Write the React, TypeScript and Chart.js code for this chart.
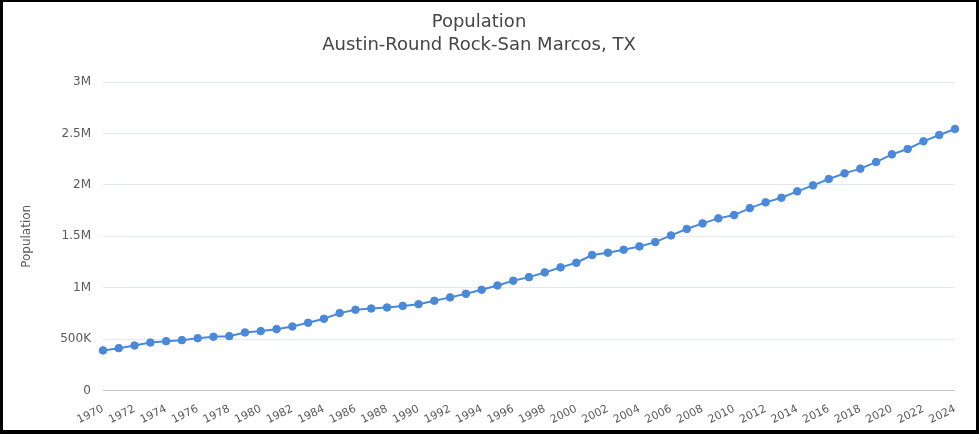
import React, { useEffect, useRef } from "react";
import { Chart, registerables } from "chart.js";

Chart.register(...registerables);

const years: string[] = [
  "1970","1971","1972","1973","1974","1975","1976","1977","1978","1979",
  "1980","1981","1982","1983","1984","1985","1986","1987","1988","1989",
  "1990","1991","1992","1993","1994","1995","1996","1997","1998","1999",
  "2000","2001","2002","2003","2004","2005","2006","2007","2008","2009",
  "2010","2011","2012","2013","2014","2015","2016","2017","2018","2019",
  "2020","2021","2022","2023","2024",
];

// Population in millions
const populationMillions: number[] = [
  0.39, 0.412, 0.438, 0.467, 0.48, 0.49, 0.509, 0.523, 0.529, 0.565,
  0.578, 0.597, 0.623, 0.659, 0.698, 0.753, 0.786, 0.798, 0.808, 0.823,
  0.84, 0.873, 0.906, 0.941, 0.98, 1.022, 1.068, 1.103, 1.149, 1.198,
  1.243, 1.318, 1.341, 1.37, 1.402, 1.444, 1.509, 1.572, 1.626, 1.675,
  1.707, 1.775, 1.831, 1.876, 1.938, 1.996, 2.058, 2.113, 2.159, 2.223,
  2.298, 2.35, 2.425, 2.486, 2.545,
];

const yTickValues: number[] = [0, 500000, 1000000, 1500000, 2000000, 2500000, 3000000];
const yTickLabels: string[] = ["0", "500K", "1M", "1.5M", "2M", "2.5M", "3M"];

const titleText = "Population";
const subtitleText = "Austin-Round Rock-San Marcos, TX";
const yAxisTitle = "Population";

const FONT = "'DejaVu Sans', Verdana, sans-serif";
const BLUE = "#4a89d9";

export default function App() {
  const canvasRef = useRef<HTMLCanvasElement | null>(null);

  useEffect(() => {
    if (!canvasRef.current) return;
    const chart = new Chart(canvasRef.current, {
      type: "line",
      data: {
        labels: years,
        datasets: [
          {
            label: "Population",
            data: populationMillions.map((v) => v * 1000000),
            borderColor: BLUE,
            backgroundColor: BLUE,
            pointBackgroundColor: BLUE,
            pointBorderColor: BLUE,
            pointRadius: 3.8,
            pointBorderWidth: 1,
            borderWidth: 2,
            tension: 0,
            fill: false,
          },
        ],
      },
      options: {
        animation: false,
        responsive: true,
        maintainAspectRatio: false,
        layout: { padding: { left: 0, right: 21, top: 0, bottom: 0 } },
        plugins: {
          legend: { display: false },
          tooltip: { enabled: false },
          title: {
            display: true,
            text: titleText,
            color: "#454545",
            font: { family: FONT, size: 18, weight: "normal", lineHeight: 1.2 },
            padding: { top: 10, bottom: 0 },
          },
          subtitle: {
            display: true,
            text: subtitleText,
            color: "#454545",
            font: { family: FONT, size: 18, weight: "normal", lineHeight: 1.2 },
            padding: { top: 1, bottom: 26 },
          },
        },
        scales: {
          x: {
            offset: false,
            grid: { display: false, drawTicks: false },
            border: { display: false },
            ticks: {
              autoSkip: false,
              minRotation: 26,
              maxRotation: 26,
              padding: 12,
              color: "#595959",
              font: { family: FONT, size: 11 },
              callback: (_v: any, i: number) => (i % 2 === 0 ? years[i] : ""),
            },
            afterFit: (scale: any) => {
              scale.height = 39.5;
            },
          },
          y: {
            min: 0,
            max: 3000000,
            afterBuildTicks: (scale: any) => {
              scale.ticks = yTickValues.map((v) => ({ value: v }));
            },
            grid: {
              drawTicks: false,
              color: (ctx: any) => (ctx.tick && ctx.tick.value === 0 ? "#c8c8c8" : "#e4e9ee"),
              lineWidth: 1,
            },
            border: { display: false },
            ticks: {
              padding: 12,
              color: "#595959",
              font: { family: FONT, size: 12 },
              callback: (v: any) => {
                const idx = yTickValues.indexOf(Number(v));
                return idx >= 0 ? yTickLabels[idx] : "";
              },
            },
            title: {
              display: true,
              text: yAxisTitle,
              color: "#595959",
              font: { family: FONT, size: 12, lineHeight: 1.2 },
              padding: { top: 17, bottom: 0 },
            },
            afterFit: (scale: any) => {
              scale.width = 100;
            },
          },
        },
      },
    });
    return () => chart.destroy();
  }, []);

  return (
    <div
      style={{
        position: "absolute",
        left: 0,
        top: 0,
        width: 979,
        height: 434,
        boxSizing: "border-box",
        borderStyle: "solid",
        borderColor: "#000",
        borderWidth: "2px 3px 4px 3px",
        background: "#fff",
      }}
    >
      <div style={{ position: "relative", width: 973, height: 428 }}>
        <canvas ref={canvasRef} />
      </div>
    </div>
  );
}
